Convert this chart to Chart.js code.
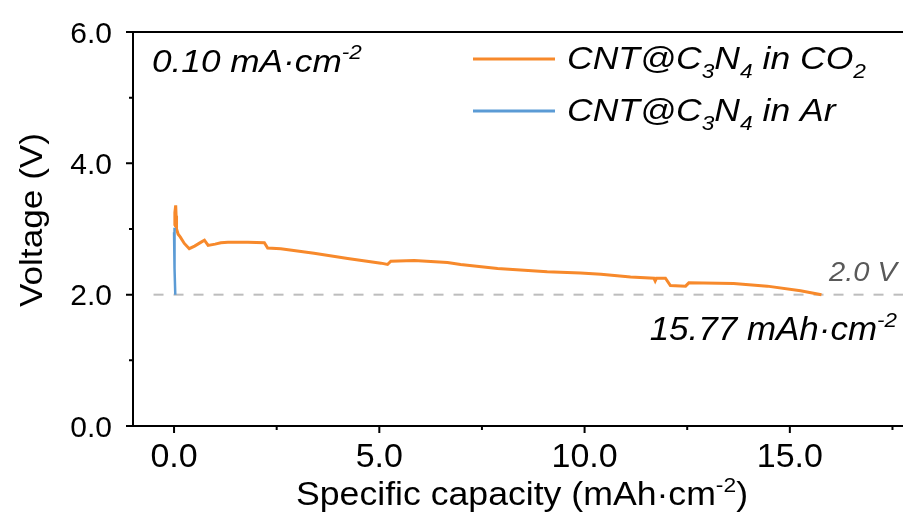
<!DOCTYPE html>
<html>
<head>
<meta charset="UTF-8">
<title>Discharge profile</title>
<script src="https://cdn.jsdelivr.net/npm/chart.js"></script>
<style>
  html, body { margin: 0; padding: 0; background: #fff; overflow: hidden; }
  canvas { display: block; }
</style>
</head>
<body>
<canvas id="discharge" width="930" height="518"></canvas>
<script>
    // discharge curve in CO2 (capacity in mAh/cm2, voltage in V)
    const capacityCO2 = [0, 0.02, 0.04, 0.05, 0.06, 0.1, 0.15, 0.25, 0.37, 0.5, 0.66, 0.74, 0.83, 1.0, 1.14, 1.31,
        1.8, 2.2, 2.28, 2.6, 3.41, 4.23, 5.04, 5.2, 5.28, 5.85, 6.66, 6.98, 7.88, 9.09, 9.9, 10.4, 11.12,
        11.69, 11.72, 11.75, 11.97, 12.09, 12.46, 12.54, 13.63, 14.45, 15.26, 15.77];
    const voltageCO2 = [3.05, 3.25, 3.36, 3.2, 3.0, 2.92, 2.88, 2.78, 2.70, 2.74, 2.80, 2.83, 2.75, 2.77, 2.79, 2.80,
        2.80, 2.79, 2.71, 2.70, 2.63, 2.55, 2.48, 2.46, 2.51, 2.52, 2.49, 2.46, 2.40, 2.35, 2.33, 2.31, 2.27,
        2.25, 2.21, 2.25, 2.25, 2.14, 2.13, 2.18, 2.17, 2.13, 2.06, 2.00];

    // discharge curve in Ar
    const capacityAr = [0, 0.005, 0.01, 0.02, 0.03];
    const voltageAr = [2.95, 3.02, 2.9, 2.4, 2.0];

    // 2.0 V cut-off guide
    const cutoffCapacity = [-0.5, 18];
    const cutoffVoltage = 2.0;

    const xTicks = [0, 5, 10, 15];
    const xMinorTicks = [2.5, 7.5, 12.5, 17.5];
    const yTicks = [0, 2, 4, 6];
    const yMinorTicks = [1, 3, 5];

    const FONT = "'Liberation Sans', Arial, sans-serif";

    function toPoints(xs, ys) {
        return xs.map((x, i) => ({ x: x, y: Array.isArray(ys) ? ys[i] : ys }));
    }

    // text with sub/superscript pieces: parts = [[text, 'sup'|'sub'|''], ...]
    // sx widens the glyphs horizontally
    function drawRich(ctx, parts, x, y, size, style, align, sx) {
        sx = sx || 1;
        const setFont = p => { ctx.font = style + ' ' + (p[1] ? size * 0.64 : size) + 'px ' + FONT; };
        let total = 0;
        parts.forEach(p => { setFont(p); total += ctx.measureText(p[0]).width; });
        total *= sx;
        let cx = align === 'center' ? x - total / 2 : align === 'right' ? x - total : x;
        ctx.save();
        ctx.textAlign = 'left';
        ctx.translate(cx, y);
        ctx.scale(sx, 1);
        let ox = 0;
        parts.forEach(p => {
            setFont(p);
            const dy = p[1] === 'sup' ? -size * 0.4 : p[1] === 'sub' ? size * 0.3 : 0;
            ctx.fillText(p[0], ox, dy);
            ox += ctx.measureText(p[0]).width;
        });
        ctx.restore();
    }

    const decorations = {
        id: 'decorations',
        afterDraw(chart) {
            const ctx = chart.ctx;
            const area = chart.chartArea;
            const xs = chart.scales.x;
            const ys = chart.scales.y;
            ctx.save();

            // frame, major and minor ticks
            ctx.strokeStyle = '#000';
            ctx.lineWidth = 2;
            ctx.strokeRect(area.left, area.top, area.right - area.left, area.bottom - area.top);
            ctx.beginPath();
            xTicks.forEach(v => {
                const px = xs.getPixelForValue(v);
                ctx.moveTo(px, area.bottom);
                ctx.lineTo(px, area.bottom + 7);
            });
            xMinorTicks.forEach(v => {
                const px = xs.getPixelForValue(v);
                ctx.moveTo(px, area.bottom);
                ctx.lineTo(px, area.bottom + 4);
            });
            yTicks.forEach(v => {
                const py = ys.getPixelForValue(v);
                ctx.moveTo(area.left - 7, py);
                ctx.lineTo(area.left, py);
            });
            yMinorTicks.forEach(v => {
                const py = ys.getPixelForValue(v);
                ctx.moveTo(area.left - 4, py);
                ctx.lineTo(area.left, py);
            });
            ctx.stroke();

            ctx.fillStyle = '#000';
            ctx.textBaseline = 'alphabetic';

            // tick labels
            xTicks.forEach(v => {
                drawRich(ctx, [[v.toFixed(1), '']], xs.getPixelForValue(v), 467, 34, 'normal', 'center');
            });
            yTicks.forEach(v => {
                drawRich(ctx, [[v.toFixed(1), '']], 112, ys.getPixelForValue(v) + 10.5, 30, 'normal', 'right');
            });

            // axis titles
            drawRich(ctx, [['Specific capacity (mAh\u00b7cm', ''], ['-2', 'sup'], [')', '']],
                522, 505, 33, 'normal', 'center', 1.08);
            ctx.save();
            ctx.translate(42, 220);
            ctx.rotate(-Math.PI / 2);
            drawRich(ctx, [['Voltage (V)', '']], 0, 0, 32, 'normal', 'center', 1.1);
            ctx.restore();

            // current density note
            drawRich(ctx, [['0.10 mA\u00b7cm', ''], ['-2', 'sup']], 152, 72, 32, 'italic', 'left', 1.1);

            // cut-off labels
            ctx.fillStyle = '#595959';
            drawRich(ctx, [['2.0 V', '']], 897, 281, 28, 'italic', 'right', 1.04);
            ctx.fillStyle = '#000';
            drawRich(ctx, [['15.77 mAh\u00b7cm', ''], ['-2', 'sup']], 897, 340, 33, 'italic', 'right', 1.06);

            // legend
            const legend = [
                { color: '#f7892b', y: 59, parts: [['CNT@C', ''], ['3', 'sub'], ['N', ''], ['4', 'sub'], [' in CO', ''], ['2', 'sub']] },
                { color: '#5b9bd5', y: 111, parts: [['CNT@C', ''], ['3', 'sub'], ['N', ''], ['4', 'sub'], [' in Ar', '']] }
            ];
            legend.forEach(item => {
                ctx.strokeStyle = item.color;
                ctx.lineWidth = 3;
                ctx.beginPath();
                ctx.moveTo(473, item.y);
                ctx.lineTo(555, item.y);
                ctx.stroke();
                drawRich(ctx, item.parts, 567, item.y + 9.5, 32, 'italic', 'left', 1.11);
            });

            ctx.restore();
        }
    };

    const ctx = document.getElementById('discharge').getContext('2d');
    const chart = new Chart(ctx, {
        type: 'line',
        data: {
            datasets: [{
                label: 'CNT@C3N4 in Ar',
                data: toPoints(capacityAr, voltageAr),
                borderColor: '#5b9bd5',
                borderWidth: 2.5,
                pointRadius: 0,
                order: 1
            }, {
                label: 'CNT@C3N4 in CO2',
                data: toPoints(capacityCO2, voltageCO2),
                borderColor: '#f7892b',
                borderWidth: 3,
                pointRadius: 0,
                order: 2
            }, {
                label: '2.0 V',
                data: toPoints(cutoffCapacity, cutoffVoltage),
                borderColor: '#bdbdbd',
                borderWidth: 2,
                borderDash: [10, 10],
                pointRadius: 0,
                order: 3
            }]
        },
        options: {
            responsive: false,
            animation: false,
            layout: { padding: { top: 32, right: 17, left: 0, bottom: 0 } },
            plugins: {
                legend: { display: false },
                tooltip: { enabled: false }
            },
            scales: {
                x: {
                    type: 'linear',
                    min: -1,
                    max: 18,
                    afterFit: s => { s.height = 92; },
                    grid: { display: false },
                    border: { display: false },
                    ticks: { display: false }
                },
                y: {
                    min: 0,
                    max: 6,
                    afterFit: s => { s.width = 133; },
                    grid: { display: false },
                    border: { display: false },
                    ticks: { display: false }
                }
            }
        },
        plugins: [decorations]
    });
</script>
</body>
</html>
